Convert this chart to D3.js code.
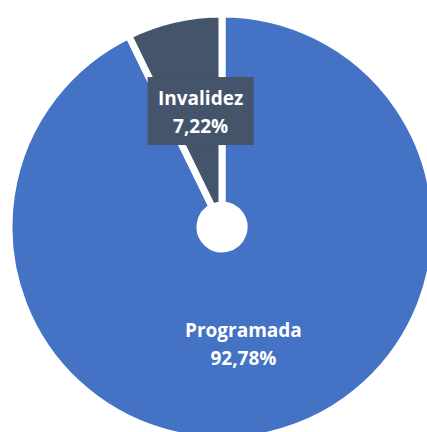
<!DOCTYPE html>
<html lang="es">
<head>
<meta charset="UTF-8">
<script src="https://d3js.org/d3.v7.min.js"></script>
<style>
  body { margin: 0; background: #fff; }
  svg { display: block; }
  text { font-family: "Open Sans", sans-serif; font-weight: 700; fill: #fff; }
</style>
</head>
<body>
<svg width="427" height="432"></svg>
<script>
  const categories = ["Programada", "Invalidez"];
  const values = [92.78, 7.22];
  const labels = ["92,78%", "7,22%"];
  const colors = ["#4472C4", "#44546A"];

  const svg = d3.select("svg");
  const cx = 222, cy = 227, outer = 213, inner = 22;

  const data = categories.map((c, i) => ({ name: c, value: values[i], label: labels[i], color: colors[i] }));
  const pie = d3.pie().value(d => d.value).sort(null);
  const arcs = pie(data);
  const arc = d3.arc().innerRadius(inner).outerRadius(outer);
  const labelArc = d3.arc().innerRadius(119).outerRadius(119);

  const g = svg.append("g").attr("transform", `translate(${cx},${cy})`);

  g.selectAll("path").data(arcs).join("path")
    .attr("d", arc)
    .attr("fill", d => d.data.color)
    .attr("stroke", "#fff")
    .attr("stroke-width", 7)
    .attr("stroke-linejoin", "round");

  // labels sit a bit closer to the vertical axis than the plain centroid
  const lab = g.selectAll("g.lab").data(arcs).join("g")
    .attr("class", "lab")
    .attr("transform", d => {
      const [x, y] = labelArc.centroid(d);
      return `translate(${x * 0.8},${y})`;
    });

  // dark box behind the small slice label
  lab.filter(d => d.index === 1).append("rect")
    .attr("x", -53).attr("y", -34).attr("width", 106).attr("height", 68)
    .attr("fill", d => d.data.color);

  lab.append("text")
    .attr("text-anchor", "middle")
    .attr("font-size", 19)
    .attr("y", -6)
    .text(d => d.data.name);

  lab.append("text")
    .attr("text-anchor", "middle")
    .attr("font-size", 19)
    .attr("y", 22)
    .text(d => d.data.label);
</script>
</body>
</html>
